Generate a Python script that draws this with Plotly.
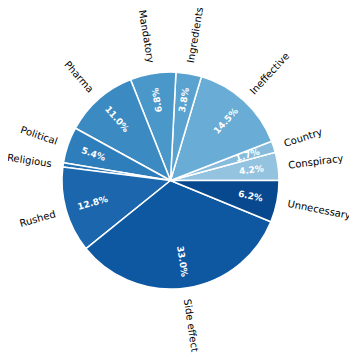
import math
import plotly.graph_objects as go

categories = ["Conspiracy", "Country", "Ineffective", "Ingredients", "Mandatory",
              "Pharma", "Political", "Religious", "Rushed", "Side effect", "Unnecessary"]
values = [4.2, 1.7, 14.5, 3.8, 6.8, 11.0, 5.4, 0.6, 12.8, 33.0, 6.2]
colors = ["#93c3df", "#86bbdb", "#69acd5", "#5aa2cf", "#4a97c9", "#3b8bc2",
          "#2e7ebc", "#2372b5", "#1b66ad", "#0e58a2", "#08488e"]

OFF = 8  # page body margin
W, H = 357 - OFF, 358 - OFF
cx, cy, R = 170.5 - OFF, 180.5 - OFF, 108.5

# DejaVu Sans advance widths (per em) for label width estimates
cw = {'a': .613, 'b': .635, 'c': .550, 'd': .635, 'e': .615, 'f': .352, 'g': .635,
      'h': .634, 'i': .278, 'l': .278, 'm': .974, 'n': .634, 'o': .612, 'p': .635,
      'r': .411, 's': .521, 't': .392, 'u': .634, 'v': .592, 'y': .592, 'C': .698,
      'I': .295, 'M': .863, 'P': .603, 'R': .695, 'S': .635, 'U': .732, ' ': .318}
LABEL_SIZE = 10
PCT_SIZE = 9

total = sum(values)
# plotly counterclockwise pies place the first slice clockwise of `rotation`
first_span = 360.0 * values[0] / total

fig = go.Figure()
fig.add_trace(go.Pie(
    labels=categories, values=values, sort=False, direction="counterclockwise",
    rotation=90 - first_span, textinfo="none", hoverinfo="label+percent",
    marker=dict(colors=colors, line=dict(color="white", width=1.5)),
    domain=dict(x=[(cx - R) / W, (cx + R) / W], y=[1 - (cy + R) / H, 1 - (cy - R) / H]),
    showlegend=False,
))

start = 0.0
annotations = []
for lab, v in zip(categories, values):
    span = 360.0 * v / total
    mid = start + span / 2
    start += span
    t = math.radians(mid)
    c, s = math.cos(t), math.sin(t)
    # outside label, radial, starting at 1.1 R
    w = sum(cw.get(ch, 0.6) for ch in lab) * LABEL_SIZE
    d = 1.1 * R + w / 2
    rot = mid if c > 0 else mid + 180
    annotations.append(dict(
        x=(cx + d * c) / W, y=1 - (cy - d * s) / H, xref="paper", yref="paper",
        text=lab, showarrow=False, textangle=-rot, xanchor="center", yanchor="middle",
        font=dict(family="DejaVu Sans", size=LABEL_SIZE, color="black")))
    # percentage inside (hidden for slices under 1%)
    pct = v / total * 100
    if pct < 1:
        continue
    dp = 0.75 * R
    prot = mid - 180 if 105 < mid < 255 else mid
    annotations.append(dict(
        x=(cx + dp * c) / W, y=1 - (cy - dp * s) / H, xref="paper", yref="paper",
        text=f"{pct:.1f}%", showarrow=False, textangle=-prot,
        xanchor="center", yanchor="middle",
        font=dict(family="DejaVu Sans", size=PCT_SIZE, color="white", weight="bold")))

fig.update_layout(
    width=W, height=H, margin=dict(l=0, r=0, t=0, b=0),
    paper_bgcolor="white", plot_bgcolor="white", annotations=annotations,
)
fig.write_html("out.html")
